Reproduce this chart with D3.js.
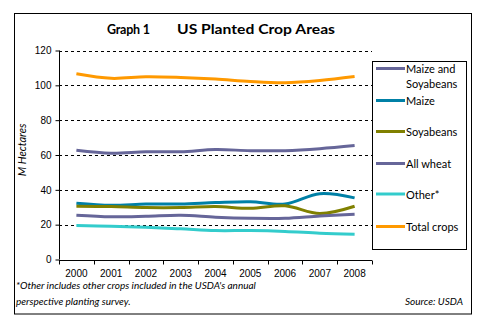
<!DOCTYPE html>
<html>
<head>
<meta charset="utf-8">
<script src="https://cdn.jsdelivr.net/npm/d3@7"></script>
<style>
    html, body { margin: 0; padding: 0; background: #fff; }
    svg { display: block; font-family: Lato, "Open Sans", sans-serif; }
</style>
</head>
<body>
<div id="chart"></div>
<script>
// Data
const years = ['2000', '2001', '2002', '2003', '2004', '2005', '2006', '2007', '2008'];
const maizeAndSoyabeans = [62.7, 61.0, 61.9, 61.9, 63.1, 62.5, 62.5, 63.6, 65.4];
const maize = [32.3, 31.1, 31.9, 31.9, 32.7, 33.2, 31.9, 37.8, 35.4];
const soyabeans = [30.6, 30.4, 29.8, 29.8, 30.4, 29.4, 30.8, 26.4, 30.6];
const allWheat = [25.4, 24.5, 24.8, 25.4, 24.3, 23.7, 23.7, 25.0, 26.0];
const other = [19.5, 19.1, 18.5, 17.6, 16.6, 16.6, 16.1, 15.1, 14.5];
const totalCrops = [106.6, 104.0, 104.9, 104.5, 103.6, 102.2, 101.5, 102.8, 105.1];
const yTicks = [0, 20, 40, 60, 80, 100, 120];

const seriesNames = ['Maize and Soyabeans', 'Maize', 'Soyabeans', 'All wheat', 'Other*', 'Total crops'];
const seriesValues = [maizeAndSoyabeans, maize, soyabeans, allWheat, other, totalCrops];
const seriesColors = ['#666699', '#0080A6', '#808000', '#666699', '#33CCCC', '#FF9900'];

document.addEventListener('DOMContentLoaded', () => {
    const width = 486, height = 326;
    const plot = { left: 59, right: 372, top: 50.5, bottom: 259.5 };

    const svg = d3.select('#chart')
        .append('svg')
        .attr('width', width)
        .attr('height', height);

    // Outer frame
    svg.append('rect')
        .attr('x', 14.5).attr('y', 13.5)
        .attr('width', 457).attr('height', 300.5)
        .attr('fill', 'none')
        .attr('stroke', '#000')
        .attr('stroke-width', 1);

    // Title
    svg.append('text')
        .attr('x', 107).attr('y', 33.5)
        .attr('textLength', 43).attr('lengthAdjust', 'spacing')
        .style('font-size', '12.5px').style('font-weight', 'bold')
        .text('Graph 1');
    svg.append('text')
        .attr('x', 177).attr('y', 33.5)
        .attr('textLength', 158).attr('lengthAdjust', 'spacingAndGlyphs')
        .style('font-size', '12.5px').style('font-weight', 'bold')
        .text('US Planted Crop Areas');

    // Scales
    const x = d3.scaleBand()
        .domain(years)
        .range([plot.left, plot.right])
        .padding(0);
    const y = d3.scaleLinear()
        .domain([0, 120])
        .range([plot.bottom, plot.top]);
    const xc = d => x(d) + x.bandwidth() / 2;

    // Dashed gridlines
    svg.append('g')
        .selectAll('line')
        .data(yTicks.filter(t => t > 0))
        .enter()
        .append('line')
        .attr('x1', plot.left).attr('x2', plot.right)
        .attr('y1', d => Math.round(y(d)) + 0.5)
        .attr('y2', d => Math.round(y(d)) + 0.5)
        .attr('stroke', '#000')
        .attr('stroke-width', 1)
        .attr('stroke-dasharray', '3,3');

    // Y axis
    const yAxis = svg.append('g')
        .attr('transform', `translate(${plot.left + 0.5},0)`)
        .call(d3.axisLeft(y).tickValues(yTicks).tickSize(4).tickPadding(4));
    yAxis.selectAll('text').style('font-size', '10px').attr('fill', '#000');
    yAxis.selectAll('line, path').attr('stroke', '#000');
    yAxis.select('.domain').attr('d', `M0,${plot.top}V${plot.bottom}`);

    // X axis: labels centred in bands, ticks on band edges
    const xAxis = svg.append('g')
        .attr('transform', `translate(0,${Math.round(plot.bottom) + 0.5})`)
        .call(d3.axisBottom(x).tickSize(0).tickPadding(9));
    xAxis.selectAll('text').style('font-size', '10px').attr('fill', '#000');
    xAxis.select('.domain').attr('stroke', '#000').attr('d', `M${plot.left},0H${plot.right}`);
    const edges = years.map(d => x(d)).concat([x(years[years.length - 1]) + x.bandwidth()]);
    xAxis.selectAll('.edge-tick')
        .data(edges)
        .enter()
        .append('line')
        .attr('class', 'edge-tick')
        .attr('x1', d => Math.round(d) + 0.5).attr('x2', d => Math.round(d) + 0.5)
        .attr('y1', 0).attr('y2', 4)
        .attr('stroke', '#000');

    // Y axis title
    svg.append('text')
        .attr('transform', `translate(26,150) rotate(-90)`)
        .attr('text-anchor', 'middle')
        .style('font-size', '11px').style('font-style', 'italic')
        .text('M Hectares');

    // Lines
    const line = d3.line()
        .x((d, i) => xc(years[i]))
        .y(d => y(d))
        .curve(d3.curveCatmullRom.alpha(0.5));

    seriesValues.forEach((vals, i) => {
        svg.append('path')
            .datum(vals)
            .attr('d', line)
            .attr('fill', 'none')
            .attr('stroke', seriesColors[i])
            .attr('stroke-width', 3);
    });

    // Legend
    const legend = svg.append('g').attr('class', 'legend');
    legend.append('rect')
        .attr('x', 372.5).attr('y', 61.5)
        .attr('width', 94).attr('height', 188)
        .attr('fill', '#fff')
        .attr('stroke', '#000');

    const legendY = [68.5, 100.5, 131.5, 163.5, 194, 226.5];
    seriesNames.forEach((name, i) => {
        const row = legend.append('g')
            .attr('transform', `translate(0,${legendY[i]})`);
        row.append('line')
            .attr('x1', 376).attr('x2', 405)
            .attr('y1', 0).attr('y2', 0)
            .attr('stroke', seriesColors[i])
            .attr('stroke-width', 3);
        const t = row.append('text')
            .attr('x', 406).attr('y', 4.5)
            .style('font-size', '11px');
        if (name === 'Maize and Soyabeans') {
            t.append('tspan').attr('x', 406).text('Maize and');
            t.append('tspan').attr('x', 406).attr('dy', 14.5).text('Soyabeans');
        } else {
            t.text(name);
        }
    });

    // Footnotes
    svg.append('text')
        .attr('x', 16).attr('y', 288.5)
        .style('font-size', '10px').style('font-style', 'italic')
        .text("*Other includes other crops included in the USDA's annual");
    svg.append('text')
        .attr('x', 16).attr('y', 304.5)
        .style('font-size', '10px').style('font-style', 'italic')
        .text('perspective planting survey.');
    svg.append('text')
        .attr('x', 463).attr('y', 304.5)
        .attr('text-anchor', 'end')
        .style('font-size', '10px').style('font-style', 'italic')
        .text('Source: USDA');
});
</script>
</body>
</html>
